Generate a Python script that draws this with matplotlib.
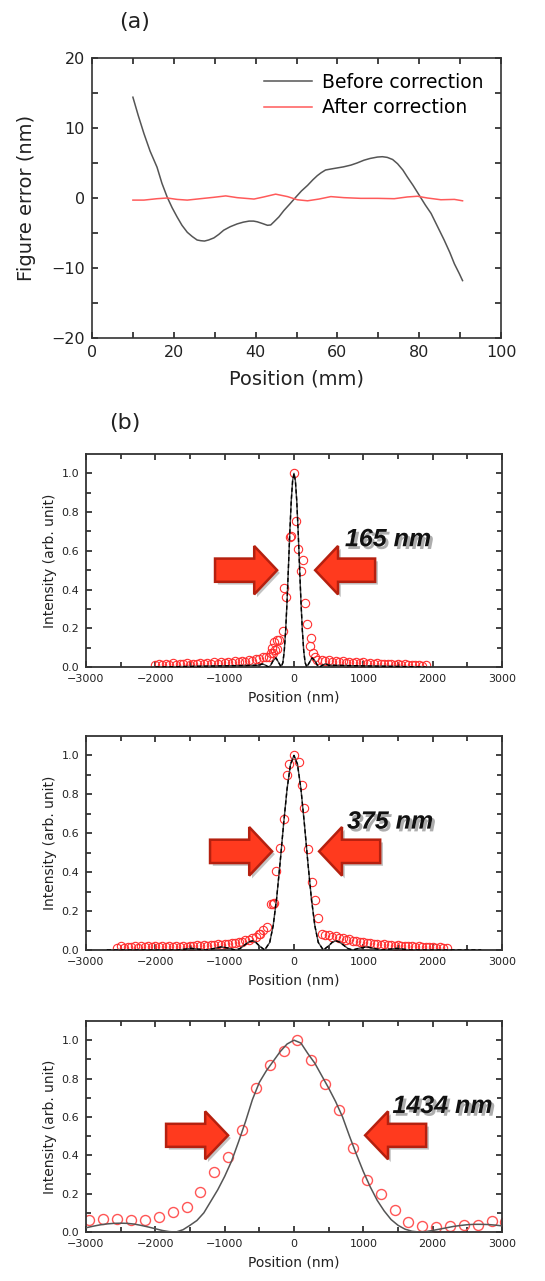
import numpy as np
import matplotlib
matplotlib.use('Agg')
import matplotlib.pyplot as plt
from matplotlib.patches import FancyArrow
import matplotlib.patheffects as pe

# (a) figure error along the mirror
pos_mm = [10.0, 11.3, 12.7, 14.2, 15.9, 17.1, 18.4, 19.6, 20.8, 22.0, 23.3, 24.5, 25.7, 26.6,
          27.5, 28.5, 29.8, 31.0, 32.2, 33.8, 35.5, 37.0, 38.4, 39.5, 40.4, 41.7, 42.9, 43.7,
          44.5, 45.7, 46.9, 48.3, 49.8, 51.2, 52.7, 54.0, 55.1, 56.0, 57.1, 58.5, 60.0, 61.5,
          63.3, 64.8, 66.5, 68.0, 69.8, 71.0, 72.2, 73.5, 74.7, 76.0, 77.1, 78.5, 80.0, 81.5,
          82.9, 84.5, 86.1, 87.5, 88.6, 89.8, 90.6]
err_before = [14.4, 11.8, 9.2, 6.7, 4.4, 2.1, 0.1, -1.4, -2.7, -3.9, -4.9, -5.5, -6.0, -6.1,
              -6.15, -6.0, -5.7, -5.2, -4.6, -4.1, -3.7, -3.45, -3.3, -3.3, -3.4, -3.65, -3.9,
              -3.85, -3.4, -2.7, -1.8, -0.9, 0.1, 1.0, 1.8, 2.6, 3.2, 3.6, 4.0, 4.15, 4.3, 4.45,
              4.7, 5.0, 5.4, 5.65, 5.85, 5.9, 5.8, 5.5, 4.9, 4.0, 3.0, 1.8, 0.4, -1.0,
              -2.2, -4.1, -6.0, -7.8, -9.4, -10.8, -11.8]
pos_mm_after = [10.0, 12.7, 15.9, 18.4, 20.8, 23.3, 26.5, 29.8, 32.7, 35.5, 39.6, 42.0, 44.9, 47.8,
                50.2, 52.7, 55.5, 58.4, 61.6, 65.7, 69.8, 73.9, 77.1, 79.6, 82.0, 85.3, 88.6, 90.6]
err_after = [-0.3, -0.3, -0.1, 0.0, -0.2, -0.3, -0.1, 0.1, 0.3, 0.05, -0.15, 0.15, 0.55, 0.2,
             -0.25, -0.4, -0.15, 0.2, 0.05, -0.05, -0.05, -0.1, 0.15, 0.25, 0.0, -0.25, -0.2, -0.4]

# (b) focus profiles, 165 nm
b1_calc_x = [-2000, -500, -460, -420, -370, -340, -300, -260, -220, -185, -160, -140, -120, -100,
             -80, -60, -40, -20, 0, 20, 40, 60, 80, 100, 120, 140, 160, 185, 220, 260, 300, 340,
             370, 420, 460, 500, 1900]
b1_calc_y = [0.0, 0.009, 0.016, 0.011, 0.0, 0.007, 0.033, 0.047, 0.022, 0.0, 0.023, 0.085, 0.192,
             0.341, 0.518, 0.699, 0.856, 0.962, 1.0, 0.962, 0.856, 0.699, 0.518, 0.341, 0.192,
             0.085, 0.023, 0.0, 0.022, 0.047, 0.033, 0.007, 0.0, 0.011, 0.016, 0.009, 0.0]
b1_left_tail = [0.012, 0.018, 0.010, 0.016, 0.012, 0.019, 0.011, 0.017, 0.013, 0.020, 0.012,
                0.018, 0.014, 0.021, 0.015, 0.022, 0.016, 0.024, 0.018, 0.026, 0.020, 0.027,
                0.022, 0.030, 0.025, 0.033, 0.028, 0.036, 0.033, 0.042, 0.040, 0.050, 0.052]
b1_right_tail = [0.035, 0.030, 0.036, 0.027, 0.032, 0.025, 0.030, 0.023, 0.028, 0.021, 0.026,
                 0.020, 0.024, 0.018, 0.022, 0.016, 0.020, 0.014, 0.018, 0.013, 0.016, 0.011,
                 0.015, 0.010, 0.013, 0.009, 0.012, 0.008, 0.010, 0.007, 0.008]
b1_core_x = [-360, -337, -313, -298, -289, -279, -250, -240, -212, -154, -144, -111, -58, -38, 0,
             29, 58, 106, 135, 154, 183, 231, 250, 279, 298, 337]
b1_core_y = [0.054, 0.070, 0.097, 0.070, 0.130, 0.088, 0.095, 0.140, 0.140, 0.188, 0.408, 0.361,
             0.672, 0.679, 1.0, 0.756, 0.610, 0.494, 0.551, 0.330, 0.223, 0.109, 0.152, 0.074,
             0.054, 0.036]

# (b) focus profiles, 375 nm
b2_calc_x = [-2700, -1692, -1600, -1480, -1400, -1269, -1150, -1050, -950, -846, -780, -700, -650,
             -600, -550, -500, -423, -350, -300, -250, -200, -150, -100, -50, 0, 50, 100, 150,
             200, 250, 300, 350, 423, 500, 550, 600, 650, 700, 780, 846, 950, 1050, 1150, 1269,
             1400, 1480, 1600, 1692, 2700]
b2_calc_y = [0.0, 0.0, 0.003, 0.0085, 0.005, 0.0, 0.008, 0.016, 0.010, 0.0, 0.007, 0.029, 0.042,
             0.047, 0.039, 0.021, 0.0, 0.039, 0.126, 0.267, 0.450, 0.648, 0.828, 0.955, 1.0,
             0.955, 0.828, 0.648, 0.450, 0.267, 0.126, 0.039, 0.0, 0.021, 0.039, 0.047, 0.042,
             0.029, 0.007, 0.0, 0.010, 0.016, 0.008, 0.0, 0.005, 0.0085, 0.003, 0.0, 0.0]
b2_left_tail = [0.012, 0.018, 0.011, 0.017, 0.013, 0.019, 0.012, 0.018, 0.014, 0.020,
                0.013, 0.019, 0.015, 0.021, 0.014, 0.020, 0.016, 0.022, 0.015, 0.021,
                0.017, 0.023, 0.018, 0.024, 0.020, 0.026, 0.021, 0.028, 0.024, 0.030,
                0.026, 0.033, 0.030, 0.037, 0.035, 0.043, 0.042, 0.050, 0.052, 0.062,
                0.068, 0.080]
b2_right_tail = [0.075, 0.068, 0.072, 0.060, 0.063, 0.052, 0.055, 0.045, 0.048, 0.040, 0.042,
                 0.035, 0.037, 0.031, 0.033, 0.028, 0.030, 0.025, 0.027, 0.023, 0.025, 0.021,
                 0.023, 0.019, 0.021, 0.017, 0.019, 0.015, 0.017, 0.014, 0.015, 0.012, 0.013,
                 0.010, 0.011]
b2_core_x = [-490, -442, -394, -337, -308, -289, -260, -202, -144, -106, -67, 0, 77, 111, 144,
             207, 255, 303, 351, 399, 447]
b2_core_y = [0.083, 0.103, 0.120, 0.238, 0.238, 0.240, 0.405, 0.522, 0.672, 0.900, 0.957, 1.0,
             0.966, 0.848, 0.728, 0.517, 0.350, 0.255, 0.164, 0.083, 0.078]

# (b) focus profiles, 1434 nm
b3_calc_y = [0.022, 0.030, 0.037, 0.042, 0.045, 0.046, 0.045, 0.041, 0.034, 0.026, 0.017, 0.008,
             0.002, 0.000, 0.012, 0.035, 0.060, 0.100, 0.160, 0.220, 0.290, 0.370, 0.470, 0.575,
             0.690, 0.780, 0.840, 0.890, 0.940, 0.980, 1.000, 0.985, 0.930, 0.880, 0.815, 0.750,
             0.680, 0.600, 0.500, 0.405, 0.315, 0.235, 0.165, 0.110, 0.065, 0.035, 0.015, 0.004,
             0.000, 0.002, 0.008, 0.015, 0.022, 0.029, 0.034, 0.038, 0.040, 0.040, 0.039, 0.036,
             0.032]
b3_meas_x = [-2950, -2750, -2550, -2350, -2150, -1950, -1750, -1550, -1350, -1150, -950, -750,
             -550, -350, -150, 50, 250, 450, 650, 850, 1050, 1250, 1450, 1650, 1850, 2050, 2250,
             2450, 2650, 2850, 3050]
b3_meas_y = [0.064, 0.069, 0.069, 0.064, 0.064, 0.078, 0.104, 0.130, 0.207, 0.311, 0.392, 0.530,
             0.751, 0.870, 0.945, 1.0, 0.898, 0.772, 0.634, 0.440, 0.271, 0.197, 0.116, 0.052,
             0.029, 0.024, 0.033, 0.035, 0.038, 0.055, 0.050]

widths = ['165 nm', '375 nm', '1434 nm']
# arrow layout per panel: left tail, left tip, right tip, right tail, y, label x, label y
arrow_layout = [(-1139, -244, 305, 1170, 0.50, 735, 0.66),
                (-1211, -316, 362, 1243, 0.507, 765, 0.66),
                (-1845, -951, 1026, 1906, 0.504, 1420, 0.657)]

fig = plt.figure(figsize=(5.45, 12.81), dpi=100)
txt = '#222222'

# ---- panel (a)
ax = fig.add_axes([92 / 545, 1 - 338 / 1281, 409 / 545, 280 / 1281])
ax.plot(pos_mm, err_before, color='#555555', lw=1.1, label='Before correction')
ax.plot(pos_mm_after, err_after, color='#ff5a5a', lw=1.1, label='After correction')
ax.set_xlim(0, 100)
ax.set_ylim(-20, 20)
ax.set_xticks([0, 20, 40, 60, 80, 100])
ax.set_xticks(np.arange(10, 100, 20), minor=True)
ax.set_yticks([-20, -10, 0, 10, 20])
ax.set_yticks([-15, -5, 5, 15], minor=True)
ax.tick_params(which='both', direction='in', top=True, right=True, labelsize=11.5,
               colors=txt, width=1.2, pad=5)
ax.tick_params(which='major', length=4)
ax.tick_params(which='minor', length=4)
for s in ax.spines.values():
    s.set_linewidth(1.2)
    s.set_color('#333333')
ax.set_xlabel('Position (mm)', fontsize=14, color=txt, labelpad=7)
ax.set_ylabel('Figure error (nm)', fontsize=14, color=txt, labelpad=11)
ax.legend(loc='upper right', frameon=False, fontsize=13.5, handlelength=2.6,
          handletextpad=0.5, labelspacing=0.35, bbox_to_anchor=(0.975, 0.975), borderaxespad=0.0)
fig.text(135 / 545, 1 - 22 / 1281, '(a)', fontsize=16, ha='center', va='center', color=txt)
fig.text(125 / 545, 1 - 423 / 1281, '(b)', fontsize=16, ha='center', va='center', color=txt)

# ---- panels (b)
bottoms = [1 - 667 / 1281, 1 - 950 / 1281, 1 - 1232 / 1281]
tops = [454, 736, 1021]
calc_x = [b1_calc_x, b2_calc_x, np.arange(-3000, 3001, 100)]
calc_y = [b1_calc_y, b2_calc_y, b3_calc_y]
meas_x = [list(np.arange(-2000, -399, 50)) + b1_core_x + list(np.arange(400, 1901, 50)),
          list(np.arange(-2550, -499, 50)) + b2_core_x + list(np.arange(500, 2201, 50)),
          b3_meas_x]
meas_y = [b1_left_tail + b1_core_y + b1_right_tail,
          b2_left_tail + b2_core_y + b2_right_tail,
          b3_meas_y]

for i in range(3):
    h = (1 - tops[i] / 1281) - bottoms[i]
    bx = fig.add_axes([86 / 545, bottoms[i], 416 / 545, h])
    ms = 6.0 if i < 2 else 7.2
    bx.plot(meas_x[i], meas_y[i], 'o', mfc='none', mec='#ff3030' if i < 2 else '#ff5555',
            ms=ms, mew=0.8 if i < 2 else 1.0, zorder=2)
    if i < 2:
        bx.plot(calc_x[i], calc_y[i], color='#444444', lw=1.0, zorder=3)
        bx.plot(calc_x[i], calc_y[i], color='black', lw=1.0, ls=(0, (3, 2)), zorder=3)
    else:
        bx.plot(calc_x[i], calc_y[i], color='#555555', lw=1.1, zorder=3)
    bx.set_xlim(-3000, 3000)
    bx.set_ylim(0, 1.1)
    bx.set_xticks(np.arange(-3000, 3001, 1000))
    bx.set_xticks(np.arange(-2500, 3000, 1000), minor=True)
    bx.set_yticks(np.arange(0, 1.01, 0.2))
    bx.set_yticks(np.arange(0.1, 1.1, 0.2), minor=True)
    bx.yaxis.set_major_formatter(matplotlib.ticker.FormatStrFormatter('%.1f'))
    bx.tick_params(which='both', direction='in', top=True, right=True, labelsize=8,
                   colors=txt, width=1.2, pad=5)
    bx.tick_params(which='major', length=4)
    bx.tick_params(which='minor', length=3.5)
    for s in bx.spines.values():
        s.set_linewidth(1.3)
        s.set_color('#333333')
    bx.set_xlabel('Position (nm)', fontsize=10, color=txt, labelpad=5)
    bx.set_ylabel('Intensity (arb. unit)', fontsize=10, color=txt, labelpad=3)

    lt, ltip, rtip, rt, ay, lx, ly = arrow_layout[i]
    shadow = [pe.withSimplePatchShadow(offset=(2, -2), shadow_rgbFace='#888888', alpha=0.5)]
    for tail, tip in [(lt, ltip), (rt, rtip)]:
        arr = FancyArrow(tail, ay, tip - tail, 0, width=0.12, head_width=0.25,
                         head_length=330, length_includes_head=True,
                         facecolor='#ff3a1e', edgecolor='#b5200f', lw=1.8, zorder=5)
        arr.set_path_effects(shadow)
        bx.add_patch(arr)
    bx.text(lx, ly, widths[i], fontsize=18, fontweight='bold', fontstyle='italic',
            family='Liberation Sans', ha='left', va='center', color='#111111', zorder=6,
            path_effects=[pe.withSimplePatchShadow(offset=(2, -2), shadow_rgbFace='#777777',
                                                  alpha=0.6)])

fig.savefig('out.png', dpi=100)
